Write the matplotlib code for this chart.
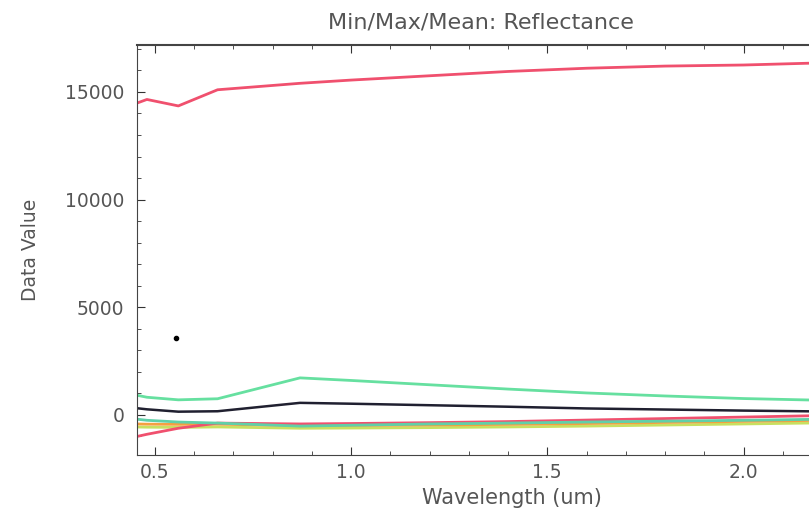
import numpy as np
import matplotlib
matplotlib.use("Agg")
import matplotlib.pyplot as plt
from matplotlib.ticker import MultipleLocator

plt.rcParams['font.family'] = ['DejaVu Sans']

# wavelength samples (um)
wl = [0.45, 0.48, 0.56, 0.66, 0.87, 1.0, 1.2, 1.4, 1.6, 1.8, 2.0, 2.2]

# statistics per band
max_val = [14450, 14650, 14350, 15100, 15400, 15550, 15750, 15950, 16100, 16200, 16250, 16350]
sd_up = [930, 820, 700, 750, 1720, 1600, 1400, 1200, 1020, 880, 760, 680]
mean_val = [320, 260, 150, 170, 560, 520, 450, 380, 300, 250, 200, 160]
sd_down = [-190, -250, -330, -380, -520, -480, -420, -380, -330, -290, -250, -200]
min_val = [-1020, -900, -620, -380, -420, -400, -360, -310, -240, -170, -100, -30]
min_b = [-420, -430, -440, -430, -500, -490, -470, -440, -400, -350, -300, -250]
min_c = [-560, -570, -580, -560, -620, -610, -590, -560, -520, -470, -420, -370]

# stray point
dot_x = [0.555]
dot_y = [3580]

fig = plt.figure(figsize=(8.09, 5.17), dpi=100)
ax = fig.add_axes([0.169, 0.12, 0.835, 0.793])

ax.plot(wl, max_val, color='#f0506e', lw=2)
ax.plot(wl, sd_up, color='#66e0a0', lw=2)
ax.plot(wl, min_c, color='#c8e060', lw=2)
ax.plot(wl, min_b, color='#f5a040', lw=2)
ax.plot(wl, min_val, color='#f0506e', lw=2)
ax.plot(wl, sd_down, color='#60d0a8', lw=2)
ax.plot(wl, mean_val, color='#202030', lw=1.8)
ax.plot(dot_x, dot_y, 'o', color='black', ms=3)

ax.set_xlim(0.454, 2.175)
ax.set_ylim(-1860, 17180)

ax.xaxis.set_major_locator(MultipleLocator(0.5))
ax.xaxis.set_minor_locator(MultipleLocator(0.1))
ax.yaxis.set_major_locator(MultipleLocator(5000))
ax.yaxis.set_minor_locator(MultipleLocator(1000))
ax.tick_params(which='both', direction='in', top=True, right=False,
               colors='#333333', labelcolor='#555555', labelsize=13.5)
ax.tick_params(which='major', length=6)
ax.tick_params(which='minor', length=3)
ax.tick_params(axis='y', pad=9)
ax.tick_params(axis='x', pad=6)
ax.spines['right'].set_visible(False)
for s in ['top', 'bottom', 'left']:
    ax.spines[s].set_color('#444444')
ax.spines['top'].set_linewidth(1.5)

ax.set_xlabel('Wavelength (um)', fontsize=15, color='#555555', labelpad=4, x=0.555)
ax.set_ylabel('Data Value', fontsize=13.5, color='#555555', labelpad=18)
ax.set_title('Min/Max/Mean: Reflectance', fontsize=16, color='#555555', pad=12, x=0.51)

fig.savefig('out.png', dpi=100)
